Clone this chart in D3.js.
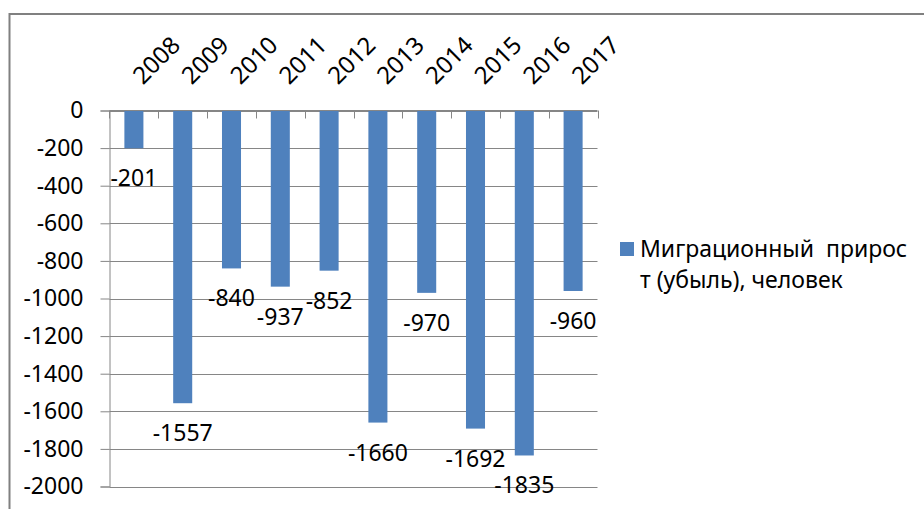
<!DOCTYPE html>
<html>
<head>
<meta charset="utf-8">
<script src="https://cdn.jsdelivr.net/npm/d3@7"></script>
<style>
  body { margin: 0; background: #fff; }
  text { font-family: "Noto Sans", sans-serif; fill: #000; }
</style>
</head>
<body>
<script>
// data
var years = ["2008", "2009", "2010", "2011", "2012", "2013", "2014", "2015", "2016", "2017"];
var values = [-201, -1557, -840, -937, -852, -1660, -970, -1692, -1835, -960];
var yTicks = [0, -200, -400, -600, -800, -1000, -1200, -1400, -1600, -1800, -2000];
var legendLines = ["Миграционный  прирос", "т (убыль), человек"];

var W = 924, H = 509;
var plot = { left: 109.5, right: 597.5, top: 110.5, bottom: 486.5 };
var grey = "#868686";
var barColor = "#4F81BD";

var svg = d3.select("body").append("svg")
    .attr("width", W)
    .attr("height", H);

// outer chart frame (runs off the right and bottom edges)
svg.append("rect")
    .attr("x", 9.5).attr("y", 14)
    .attr("width", W + 20).attr("height", H + 20)
    .attr("fill", "none")
    .attr("stroke", "#808080")
    .attr("stroke-width", 2);

var x = d3.scaleBand()
    .domain(years)
    .range([plot.left, plot.right])
    .paddingInner(0.61)
    .paddingOuter(0.305);

var y = d3.scaleLinear()
    .domain([-2000, 0])
    .range([plot.bottom, plot.top]);

// gridlines
svg.append("g").attr("class", "grid")
    .selectAll("line")
    .data(yTicks)
    .join("line")
    .attr("x1", plot.left)
    .attr("x2", plot.right)
    .attr("y1", d => Math.round(y(d)) + 0.5)
    .attr("y2", d => Math.round(y(d)) + 0.5)
    .attr("stroke", grey);

// bars
svg.append("g").attr("class", "bars")
    .selectAll("rect")
    .data(values)
    .join("rect")
    .attr("x", (d, i) => x(years[i]))
    .attr("y", y(0))
    .attr("width", x.bandwidth())
    .attr("height", d => y(d) - y(0))
    .attr("fill", barColor);

// left axis
var yAxis = d3.axisLeft(y)
    .tickValues(yTicks)
    .tickSize(9)
    .tickPadding(17)
    .tickFormat(d3.format("d"));

var gy = svg.append("g")
    .attr("transform", "translate(" + plot.left + ",0)")
    .call(yAxis);
gy.select(".domain").attr("stroke", grey);
gy.selectAll(".tick line").attr("stroke", grey);
gy.selectAll(".tick text")
    .attr("font-size", 23)
    .attr("font-family", "Noto Sans")
    .text(d => d === 0 ? "0" : "-" + Math.abs(d));

// top axis with ticks pointing down into the plot
var gx = svg.append("g").attr("class", "xaxis");
gx.append("line")
    .attr("x1", plot.left).attr("x2", plot.right)
    .attr("y1", plot.top).attr("y2", plot.top)
    .attr("stroke", grey);
var bounds = years.map(d => x(d) - x.step() * x.paddingInner() / 2).concat([plot.right]);
gx.selectAll("line.tk")
    .data(bounds)
    .join("line")
    .attr("class", "tk")
    .attr("x1", d => Math.round(d) + 0.5)
    .attr("x2", d => Math.round(d) + 0.5)
    .attr("y1", plot.top)
    .attr("y2", plot.top + 8)
    .attr("stroke", grey);

gx.selectAll("text")
    .data(years)
    .join("text")
    .attr("transform", d => "translate(" + (x(d) + x.bandwidth() / 2 + 9) + "," + (plot.top - 25) + ") rotate(-45)")
    .attr("font-size", 24)
    .attr("text-anchor", "start")
    .text(d => d);

// data labels under the bar ends
svg.append("g").attr("class", "labels")
    .selectAll("text")
    .data(values)
    .join("text")
    .attr("x", (d, i) => x(years[i]) + x.bandwidth() / 2)
    .attr("y", d => y(d) + 38)
    .attr("text-anchor", "middle")
    .attr("font-size", 23)
    .text(d => "-" + Math.abs(d));

// legend
var lg = svg.append("g").attr("transform", "translate(620,242)");
lg.append("rect")
    .attr("width", 14).attr("height", 14)
    .attr("fill", barColor);
lg.selectAll("text")
    .data(legendLines)
    .join("text")
    .attr("x", 20)
    .attr("y", (d, i) => 15 + i * 31)
    .attr("font-size", 23)
    .style("white-space", "pre")
    .text(d => d);
</script>
</body>
</html>
